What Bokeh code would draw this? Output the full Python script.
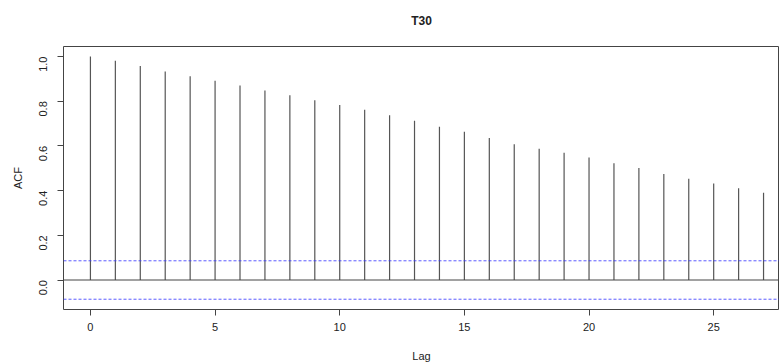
from bokeh.plotting import figure
from bokeh.models import Span, Range1d, FixedTicker
from bokeh.embed import file_html
from bokeh.resources import INLINE
import math

# Data
lags = list(range(28))
acf = [1.000, 0.981, 0.958, 0.933, 0.912, 0.892, 0.871, 0.848, 0.827, 0.804,
       0.783, 0.762, 0.737, 0.713, 0.686, 0.663, 0.636, 0.608, 0.587, 0.569,
       0.548, 0.523, 0.501, 0.474, 0.453, 0.432, 0.411, 0.391]
ci = 0.086
x_ticks = [0, 5, 10, 15, 20, 25]
y_ticks = [0.0, 0.2, 0.4, 0.6, 0.8, 1.0]
title_text = "T30"

FONT = "Liberation Sans"
TXT = "#222222"

p = figure(width=779, height=364, output_backend="svg", toolbar_location=None,
           x_range=Range1d(-1.08, 27.64), y_range=Range1d(-0.132, 1.045),
           min_border_left=63, min_border_right=0, min_border_top=45,
           min_border_bottom=55, title=title_text)

p.title.text_font = FONT
p.title.text_font_size = "12px"
p.title.text_font_style = "bold"
p.title.text_color = TXT
p.title.align = "center"
p.title.standoff = 22
p.title.padding = (0, 0, 0, 8)

p.xgrid.visible = False
p.ygrid.visible = False
p.background_fill_color = "white"
p.border_fill_color = "white"
p.outline_line_color = "#444444"
p.outline_line_width = 1

for ax in (p.xaxis[0], p.yaxis[0]):
    ax.axis_line_color = None
    ax.major_tick_out = 6
    ax.major_tick_in = 0
    ax.minor_tick_out = 0
    ax.minor_tick_in = 0
    ax.major_tick_line_color = "#444444"
    ax.major_label_text_font = FONT
    ax.major_label_text_font_size = "11px"
    ax.major_label_text_color = TXT
    ax.axis_label_text_font = FONT
    ax.axis_label_text_font_size = "11px"
    ax.axis_label_text_font_style = "normal"
    ax.axis_label_text_color = TXT

p.xaxis.ticker = FixedTicker(ticks=x_ticks)
p.yaxis.ticker = FixedTicker(ticks=y_ticks)
p.yaxis.major_label_overrides = {v: f"{v:.1f}" for v in y_ticks}
p.yaxis.major_label_orientation = math.pi / 2
p.xaxis.axis_label = "Lag"
p.yaxis.axis_label = "ACF"
p.xaxis.major_label_standoff = 7
p.yaxis.major_label_standoff = 14
p.xaxis.axis_label_standoff = 16
p.yaxis.axis_label_standoff = 9

p.segment(x0=lags, y0=[0] * len(lags), x1=lags, y1=acf,
          line_color="#555555", line_width=1.2)

p.add_layout(Span(location=0, dimension="width", line_color="#444444", line_width=1))
for c in (ci, -ci):
    p.add_layout(Span(location=c, dimension="width", line_color="#3333ff",
                      line_width=1, line_dash="3 2", line_alpha=0.8))

open("out.html", "w").write(file_html(p, INLINE))
